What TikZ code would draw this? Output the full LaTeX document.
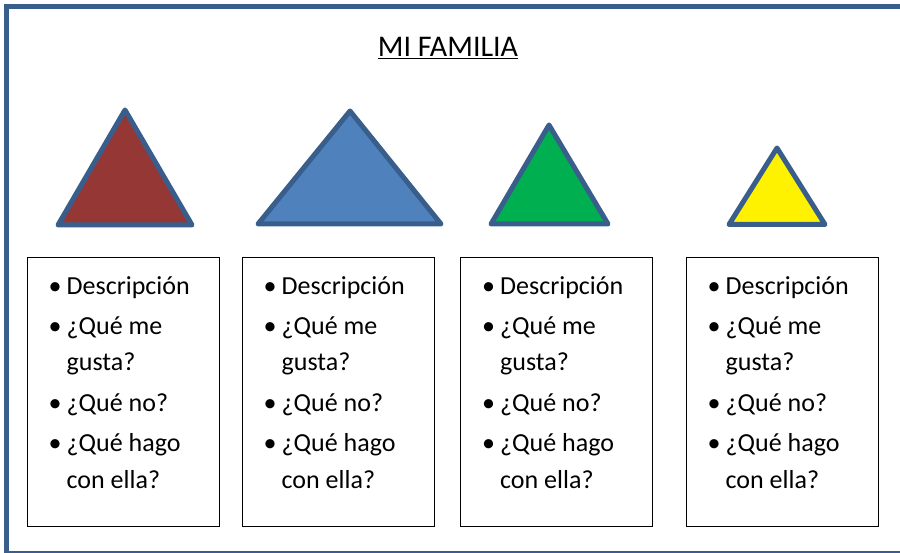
\documentclass[tikz,border=0pt]{standalone}
\usepackage{fontspec}
\setmainfont{Carlito}
\definecolor{frameblue}{HTML}{3A5E8C}
\definecolor{brownred}{HTML}{953735}
\definecolor{skyblue}{HTML}{4F81BD}
\definecolor{leafgreen}{HTML}{00B050}

\newcommand\famitems{%
  \begin{tabular}[t]{@{}l@{}}
  \makebox[18pt][l]{\textbullet}Descripción\\[3pt]
  \makebox[18pt][l]{\textbullet}¿Qué me\\
  \hspace*{18pt}gusta?\\[4pt]
  \makebox[18pt][l]{\textbullet}¿Qué no?\\[4pt]
  \makebox[18pt][l]{\textbullet}¿Qué hago\\
  \hspace*{18pt}con ella?
  \end{tabular}}

\begin{document}
\begin{tikzpicture}[x=1pt,y=-1pt,
  tri/.style={draw=frameblue,line width=5pt,line join=round},
  famlist/.style={draw,line width=1.3pt,minimum width=192pt,minimum height=269pt,anchor=north west,inner sep=0pt},
  items/.style={anchor=base west,inner sep=0pt,font=\fontsize{26}{36.5}\selectfont}]
\useasboundingbox (0,0) rectangle (900,553);
\fill[white] (0,0) rectangle (900,553);
\draw[frameblue,line width=5pt] (6.5,6.5) rectangle (915,553);

\node[anchor=base,font=\fontsize{30}{36}\selectfont] (title) at (448,57) {\underline{MI FAMILIA}};

% triangles
\filldraw[tri,fill=brownred] (125,110) -- (58,225) -- (192,225) -- cycle;
\filldraw[tri,fill=skyblue] (350,111) -- (258,224) -- (441,224) -- cycle;
\filldraw[tri,fill=leafgreen] (549,125) -- (491,224) -- (608,224) -- cycle;
\filldraw[tri,fill=yellow] (777,148) -- (729,224.5) -- (825,224.5) -- cycle;

% boxes
\foreach \x/\n in {26.5/1,241.5/2,460/3,685.5/4}{
  \node[famlist] (box\n) at (\x,257) {};
  \node[items] (list\n) at (\x+22,295) {\famitems};
}
\end{tikzpicture}
\end{document}
